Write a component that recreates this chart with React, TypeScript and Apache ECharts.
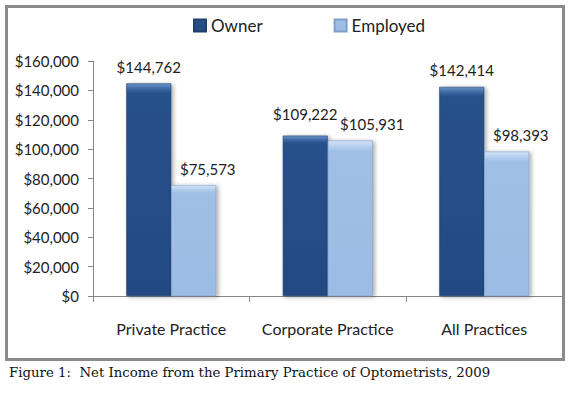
import React, { useEffect, useRef } from "react";
import * as echarts from "echarts";

const categories = ["Private Practice", "Corporate Practice", "All Practices"];
const seriesNames = ["Owner", "Employed"];
const ownerValues = [144762, 109222, 142414];
const employedValues = [75573, 105931, 98393];
const yMax = 160000;
const yInterval = 20000;
const caption = "Figure 1:  Net Income from the Primary Practice of Optometrists, 2009";

const fmt = (v: number) => "$" + v.toLocaleString("en-US");

export default function App() {
  const ref = useRef<HTMLDivElement>(null);
  useEffect(() => {
    if (!ref.current) return;
    const chart = echarts.init(ref.current, null, { renderer: "svg" });
    const G = echarts.graphic.LinearGradient;
    const ownerFill = new G(0, 0, 0, 1, [
      { offset: 0, color: "#6b93c9" },
      { offset: 0.025, color: "#3d68a3" },
      { offset: 0.045, color: "#28518b" },
      { offset: 1, color: "#234a82" },
    ]);
    const empFill = new G(0, 0, 0, 1, [
      { offset: 0, color: "#d3e3f6" },
      { offset: 0.04, color: "#b3cdee" },
      { offset: 0.07, color: "#9fbfe6" },
      { offset: 1, color: "#9bbce4" },
    ]);
    const labelBase = {
      show: true,
      position: "top" as const,
      distance: 9,
      fontFamily: "Lato",
      fontSize: 15,
      color: "#222",
      formatter: (p: any) => fmt(p.value),
    };
    chart.setOption({
      animation: false,
      backgroundColor: "#ffffff",
      textStyle: { fontFamily: "Lato" },
      legend: {
        data: seriesNames,
        left: 188,
        top: 12,
        icon: "rect",
        itemWidth: 12,
        itemHeight: 12,
        itemGap: 71,
        textStyle: { fontFamily: "Lato", fontSize: 17, color: "#222" },
      },
      grid: { left: 93, right: 12.5, top: 61, bottom: 98, containLabel: false },
      xAxis: {
        type: "category",
        data: categories,
        axisLine: { lineStyle: { color: "#868686", width: 1 } },
        axisTick: { show: true, length: 6, lineStyle: { color: "#868686" } },
        axisLabel: { interval: 0, fontFamily: "Lato", fontSize: 16, color: "#222", margin: 24 },
      },
      yAxis: {
        type: "value",
        min: 0,
        max: yMax,
        interval: yInterval,
        splitLine: { show: false },
        axisLine: { show: true, lineStyle: { color: "#868686", width: 1 } },
        axisTick: { show: true, length: 5, lineStyle: { color: "#868686" } },
        axisLabel: {
          fontFamily: "Lato",
          fontSize: 15,
          color: "#222",
          margin: 14,
          formatter: (v: number) => fmt(v),
        },
      },
      series: [
        {
          name: seriesNames[0],
          type: "bar",
          barGap: "0%",
          barCategoryGap: "42.5%",
          data: ownerValues.map((v, i) =>
            i === 1 ? { value: v, label: { offset: [0, -5] } } : v
          ),
          itemStyle: {
            color: ownerFill,
            borderColor: "#1e406f",
            borderWidth: 0.6,
            shadowColor: "rgba(0,0,0,0.35)",
            shadowBlur: 4,
            shadowOffsetX: 2,
            shadowOffsetY: 1,
          },
          label: labelBase,
        },
        {
          name: seriesNames[1],
          type: "bar",
          data: employedValues.map((v, i) =>
            i === 1 ? { value: v, label: { offset: [22, 0] } } : v
          ),
          itemStyle: {
            color: empFill,
            borderColor: "#7f9fc8",
            borderWidth: 0.6,
            shadowColor: "rgba(0,0,0,0.35)",
            shadowBlur: 4,
            shadowOffsetX: 2,
            shadowOffsetY: 1,
          },
          label: { ...labelBase, offset: [14, 0] },
        },
      ],
      graphic: [
        {
          type: "rect",
          shape: { x: 6.5, y: 6.5, width: 557, height: 353 },
          style: { fill: "none", stroke: "#8a8a8a", lineWidth: 3 },
          silent: true,
          z: 100,
        },
        {
          type: "text",
          left: 9,
          top: 366,
          style: {
            text: caption,
            font: '13.3px "DejaVu Serif"',
            fill: "#111",
          },
        },
      ],
    });
    return () => chart.dispose();
  }, []);
  return (
    <div
      ref={ref}
      style={{ position: "fixed", left: 0, top: 0, width: 575, height: 394 }}
    />
  );
}
